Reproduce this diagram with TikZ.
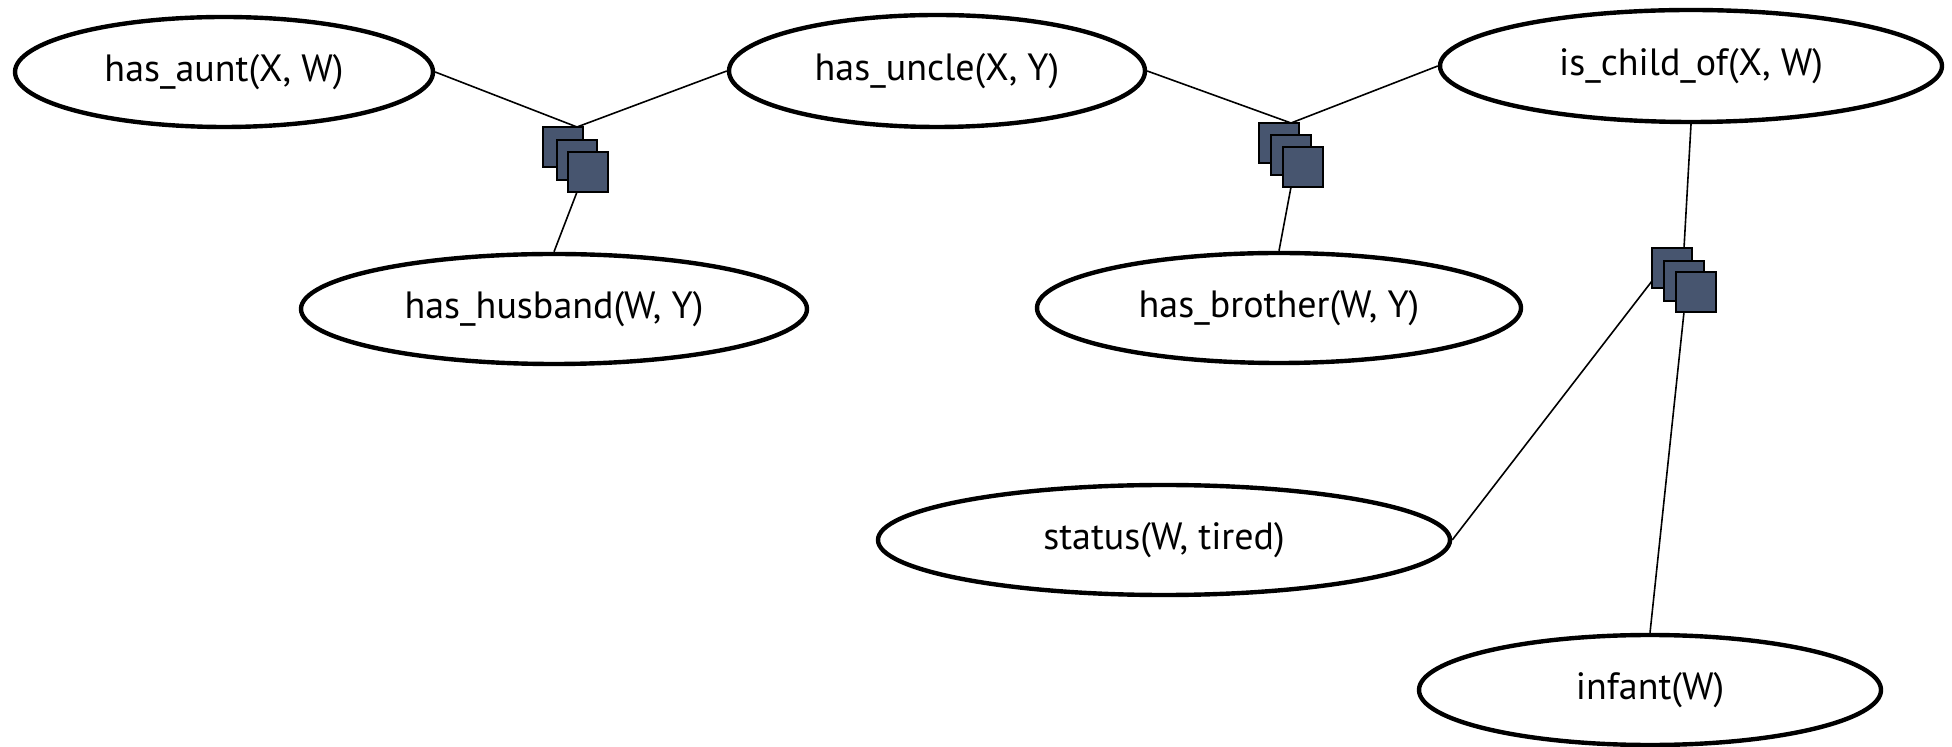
\documentclass[tikz,border=0pt]{standalone}
\usepackage{fontspec}
\setmainfont{PT Sans}
\usetikzlibrary{shapes.geometric}
\definecolor{factorfill}{RGB}{71,85,111}
\begin{document}
\begin{tikzpicture}[x=0.5pt,y=-0.5pt,
  var/.style={ellipse, draw, line width=2.2pt, inner sep=0pt,
              font=\fontsize{19}{23}\selectfont},
  factor/.style={rectangle, draw, fill=factorfill, line width=1.3pt,
                 minimum size=20pt, inner sep=0pt},
  link/.style={line width=0.8pt}]
\useasboundingbox (0,0) rectangle (1952,747);

% variable nodes
\node[var, minimum width=209pt, minimum height=55pt] (aunt)    at (224,72)   {has\_aunt(X, W)};
\node[var, minimum width=208pt, minimum height=56pt] (uncle)   at (937,71)   {has\_uncle(X, Y)};
\node[var, minimum width=251pt, minimum height=56pt] (child)   at (1691,66)  {is\_child\_of(X, W)};
\node[var, minimum width=253pt, minimum height=55pt] (husband) at (554,309)  {has\_husband(W, Y)};
\node[var, minimum width=242pt, minimum height=55pt] (brother) at (1279,308) {has\_brother(W, Y)};
\node[var, minimum width=286pt, minimum height=55pt] (status)  at (1164,540) {status(W, tired)};
\node[var, minimum width=231pt, minimum height=55pt] (infant)  at (1650,690) {infant(W)};

% centres of the three squares of each factor stack
\path (563,147) coordinate (f1a) (577,160) coordinate (f1b) (588,172) coordinate (f1c);
\path (1279,143) coordinate (f2a) (1291,155) coordinate (f2b) (1303,167) coordinate (f2c);
\path (1672,268) coordinate (f3a) (1684,281) coordinate (f3b) (1696,292) coordinate (f3c);

% attachment points on the stacks
\coordinate (f1top) at ([yshift=10pt]f1b |- f1a);
\coordinate (f1bot) at ([yshift=-10pt]f1b |- f1c);
\coordinate (f2top) at ([yshift=10pt]f2b |- f2a);
\coordinate (f2bot) at ([yshift=-10pt]f2b |- f2c);
\coordinate (f3top) at ([yshift=10pt]f3b |- f3a);
\coordinate (f3bot) at ([yshift=-10pt]f3b |- f3c);
\coordinate (f3left) at ([xshift=-10pt]f3a |- f3b);

% links
\draw[link] (aunt.east) -- (f1top);
\draw[link] (uncle.west) -- (f1top);
\draw[link] (f1bot) -- (husband.north);
\draw[link] (uncle.east) -- (f2top);
\draw[link] (child.west) -- (f2top);
\draw[link] (f2bot) -- (brother.north);
\draw[link] (child.south) -- (f3top);
\draw[link] (f3left) -- (status.east);
\draw[link] (f3bot) -- (infant.north);

% factor stacks
\foreach \f in {f1,f2,f3}{
  \draw[link] ([xshift=-10pt]\f a |- \f b) -- ([xshift=10pt]\f c |- \f b);
  \node[factor] (\f sqa) at (\f a) {};
  \node[factor] (\f sqb) at (\f b) {};
  \node[factor] (\f sqc) at (\f c) {};
}
\end{tikzpicture}
\end{document}
